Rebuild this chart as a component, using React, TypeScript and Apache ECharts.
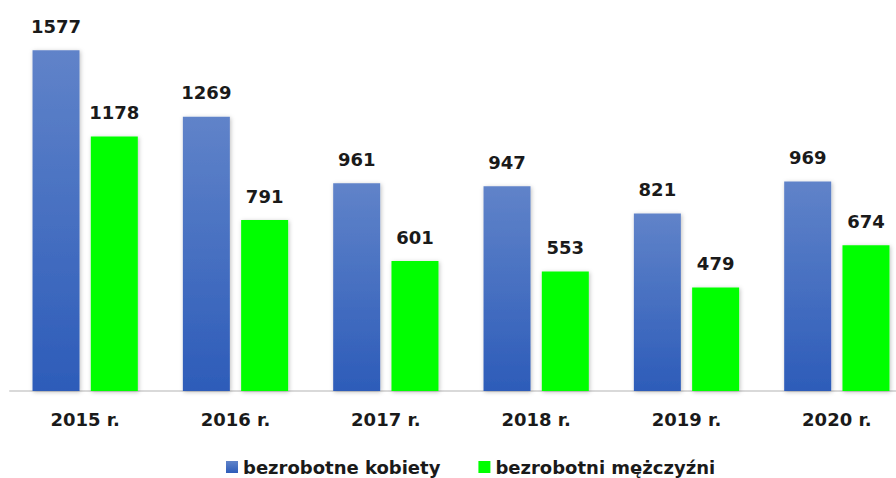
import React, { useEffect, useRef } from "react";
import * as echarts from "echarts";

const categories = ["2015 r.", "2016 r.", "2017 r.", "2018 r.", "2019 r.", "2020 r."];
const kobiety = [1577, 1269, 961, 947, 821, 969];
const mezczyzni = [1178, 791, 601, 553, 479, 674];
const seriesNames = ["bezrobotne kobiety", "bezrobotni mężczyźni"];

const FONT = "'DejaVu Sans', Verdana, sans-serif";

export default function App() {
  const ref = useRef<HTMLDivElement>(null);
  useEffect(() => {
    if (!ref.current) return;
    const chart = echarts.init(ref.current, undefined, { renderer: "svg" });
    const label = {
      show: true,
      position: "top" as const,
      distance: 15,
      color: "#1a1a1a",
      fontFamily: FONT,
      fontWeight: "bold" as const,
      fontSize: 18,
    };
    const shadow = {
      shadowColor: "rgba(0,0,0,0.25)",
      shadowBlur: 4,
      shadowOffsetX: 1,
      shadowOffsetY: 1,
    };
    chart.setOption({
      animation: false,
      backgroundColor: "#ffffff",
      grid: { left: 10, width: 902, top: 2, height: 389, containLabel: false },
      legend: {
        top: 453,
        left: 221,
        itemWidth: 12,
        itemHeight: 12,
        itemGap: 38,
        icon: "rect",
        textStyle: { fontFamily: FONT, fontWeight: "bold", fontSize: 18, color: "#1a1a1a" },
        data: seriesNames,
      },
      xAxis: {
        type: "category",
        data: categories,
        axisLine: { show: true, lineStyle: { color: "#d9d9d9", width: 2 } },
        axisTick: { show: false },
        axisLabel: {
          margin: 19,
          color: "#1a1a1a",
          fontFamily: FONT,
          fontWeight: "bold",
          fontSize: 18,
        },
      },
      yAxis: {
        type: "value",
        min: 0,
        max: 1800,
        show: false,
        splitLine: { show: false },
      },
      series: [
        {
          name: seriesNames[0],
          type: "bar",
          data: kobiety,
          barWidth: 47,
          barGap: "24%",
          label,
          itemStyle: {
            color: new echarts.graphic.LinearGradient(0, 0, 0, 1, [
              { offset: 0, color: "#6083c9" },
              { offset: 1, color: "#2d5cb9" },
            ]),
            ...shadow,
          },
        },
        {
          name: seriesNames[1],
          type: "bar",
          data: mezczyzni,
          barWidth: 47,
          label,
          itemStyle: { color: "#00ff00", ...shadow },
        },
      ],
    });
    return () => chart.dispose();
  }, []);
  return (
    <div style={{ position: "absolute", left: 0, top: 0, width: 896, height: 478, overflow: "hidden" }}>
      <div ref={ref} style={{ width: 912, height: 478, position: "absolute", left: 0, top: 0 }} />
    </div>
  );
}
